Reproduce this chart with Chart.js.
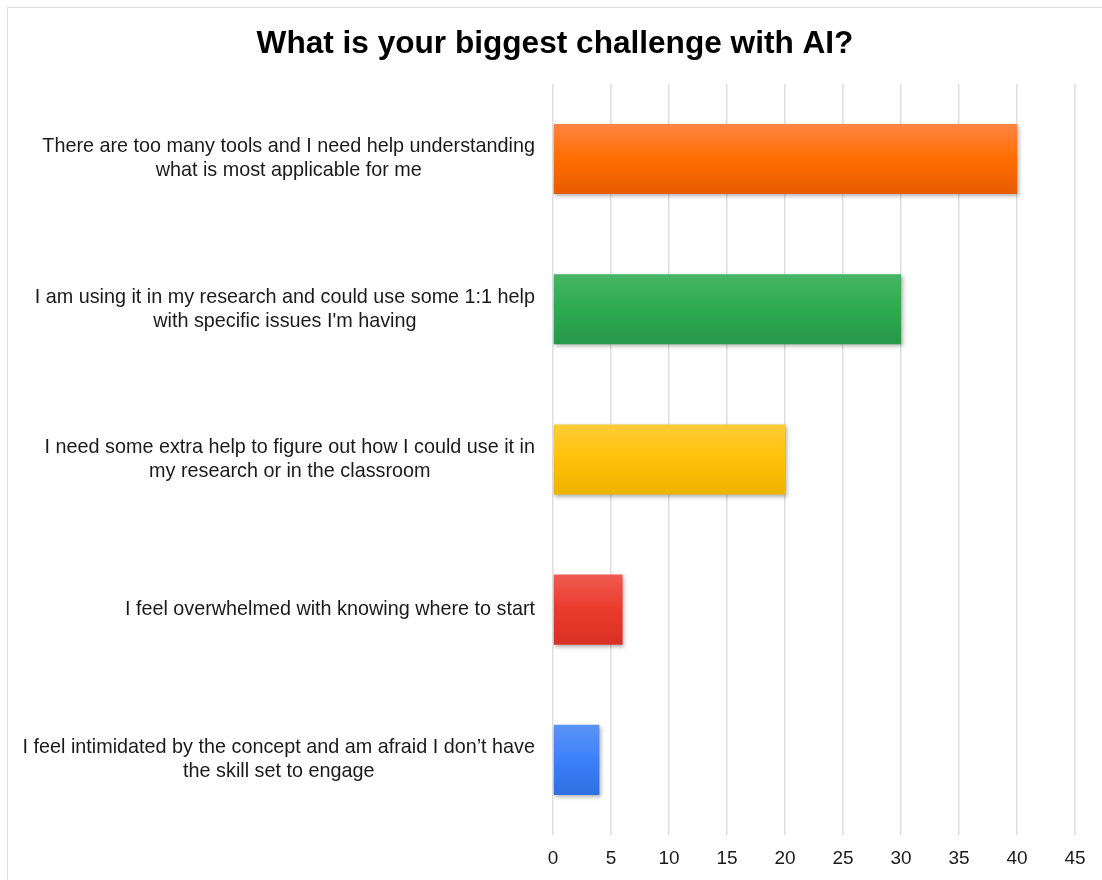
<!DOCTYPE html>
<html>
<head>
<meta charset="utf-8">
<script src="https://cdn.jsdelivr.net/npm/chart.js@4.4.1/dist/chart.umd.min.js"></script>
<style>
	html, body { margin: 0; padding: 0; background: #fff; }
	#wrap {
		position: absolute;
		left: 7px;
		top: 7px;
		width: 1094px;
		height: 872px;
		border-left: 1px solid #dcdcdc;
		border-top: 1px solid #dcdcdc;
	}
</style>
</head>
<body>
<div id="wrap"><canvas id="chart-ai-challenge"></canvas></div>
<script>
// Chart data
const CHART_TITLE = "What is your biggest challenge with AI?";
const CATEGORIES = [
	["There are too many tools and I need help understanding", "what is most applicable for me"],
	["I am using it in my research and could use some 1:1 help", "with specific issues I'm having"],
	["I need some extra help to figure out how I could use it in", "my research or in the classroom"],
	["I feel overwhelmed with knowing where to start"],
	["I feel intimidated by the concept and am afraid I don\u2019t have", "the skill set to engage"],
];
const RESPONSES = [40, 30, 20, 6, 4];
const X_TICKS = [0, 5, 10, 15, 20, 25, 30, 35, 40, 45];

// top / middle / bottom shade of each bar
const BAR_SHADES = [
	["#ff8543", "#ff6d00", "#e65c00"],
	["#45b565", "#2eaa50", "#27984a"],
	["#ffcb3a", "#ffc107", "#efb300"],
	["#ef5b4f", "#ea3b2c", "#d83024"],
	["#5b94f6", "#3d80fa", "#2f6fe2"],
];

const FONT = "'Liberation Sans', Arial, Helvetica, sans-serif";
const CHART_WRAPPER = document.getElementById("chart-ai-challenge");

const barGradient = (context) => {
	const shades = BAR_SHADES[context.dataIndex];
	const chart = context.chart;
	const yScale = chart.scales.y;
	if (!chart.chartArea || !yScale) return shades[1];
	const center = yScale.getPixelForValue(context.dataIndex);
	const half = (yScale.height / CATEGORIES.length) * 0.467 / 2;
	if (!isFinite(center)) return shades[1];
	const gradient = chart.ctx.createLinearGradient(0, center - half, 0, center + half);
	gradient.addColorStop(0, shades[0]);
	gradient.addColorStop(0.5, shades[1]);
	gradient.addColorStop(1, shades[2]);
	return gradient;
};

// soft drop shadow under the bars
const barShadow = {
	id: "barShadow",
	beforeDatasetsDraw(chart) {
		const ctx = chart.ctx;
		ctx.save();
		ctx.shadowColor = "rgba(0, 0, 0, 0.3)";
		ctx.shadowBlur = 4;
		ctx.shadowOffsetX = 1.5;
		ctx.shadowOffsetY = 2;
	},
	afterDatasetsDraw(chart) {
		chart.ctx.restore();
	},
};

// category labels: block right aligned, lines centred inside the block
const categoryLabels = {
	id: "categoryLabels",
	afterDraw(chart) {
		const ctx = chart.ctx;
		const yScale = chart.scales.y;
		const right = chart.chartArea.left - 18;
		const lineHeight = 24;
		ctx.save();
		ctx.font = "19.8px " + FONT;
		ctx.fillStyle = "#1a1a1a";
		ctx.textAlign = "center";
		ctx.textBaseline = "middle";
		CATEGORIES.forEach((lines, i) => {
			const widest = Math.max(...lines.map((l) => ctx.measureText(l).width));
			const cx = right - widest / 2;
			const cy = yScale.getPixelForValue(i);
			lines.forEach((line, j) => {
				ctx.fillText(line, cx, cy + (j - (lines.length - 1) / 2) * lineHeight);
			});
		});
		ctx.restore();
	},
};

const CHART_DATA = {
	labels: CATEGORIES.map((c) => c.join(" ")),
	datasets: [
		{
			label: "Responses",
			data: RESPONSES,
			backgroundColor: barGradient,
			borderWidth: 0,
			categoryPercentage: 1,
			barPercentage: 0.467,
		},
	],
};

const CHART_CONFIG = {
	type: "bar",
	data: CHART_DATA,
	options: {
		indexAxis: "y",
		responsive: true,
		maintainAspectRatio: false,
		animation: false,
		layout: {
			padding: { left: 27, right: 27, top: 0, bottom: 0 },
		},
		scales: {
			x: {
				min: 0,
				max: 45,
				border: { display: false },
				grid: { color: "#dedede", lineWidth: 1.5, drawTicks: false },
				afterBuildTicks: (scale) => {
					scale.ticks = X_TICKS.map((v) => ({ value: v }));
				},
				afterFit: (scale) => {
					scale.height = 45;
				},
				ticks: {
					padding: 12,
					color: "#1a1a1a",
					font: { family: FONT, size: 19 },
				},
			},
			y: {
				border: { display: false },
				grid: { display: false, drawTicks: false },
				ticks: { display: false },
				afterFit: (scale) => {
					scale.width = 518;
				},
			},
		},
		plugins: {
			legend: { display: false },
			tooltip: { enabled: false },
			title: {
				display: true,
				text: CHART_TITLE,
				color: "#000",
				font: { family: FONT, size: 31.6, weight: "bold" },
				padding: { top: 17, bottom: 21 },
			},
		},
	},
	plugins: [barShadow, categoryLabels],
};

if (CHART_WRAPPER) {
	new Chart(CHART_WRAPPER, CHART_CONFIG);
}
</script>
</body>
</html>
